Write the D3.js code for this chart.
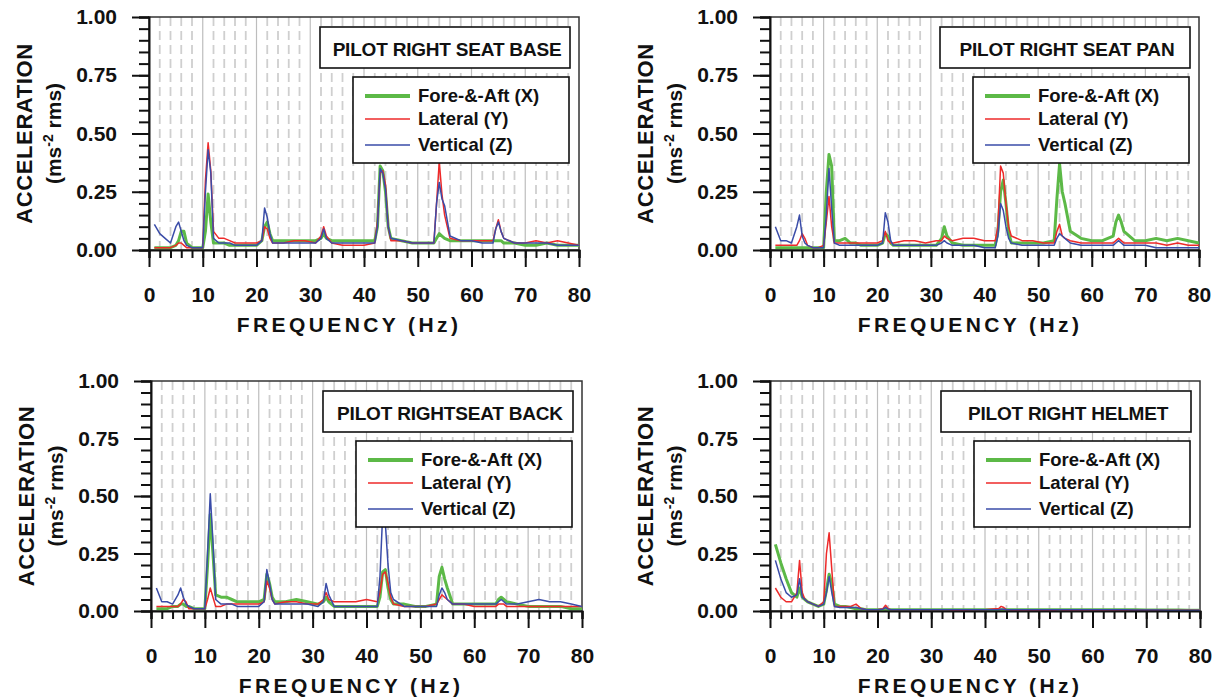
<!DOCTYPE html>
<html>
<head>
<meta charset="utf-8">
<script src="https://cdn.jsdelivr.net/npm/d3@7"></script>
<style>
  body { margin: 0; background: #fff; }
  text { font-family: "Liberation Sans", Arial, sans-serif; }
</style>
</head>
<body>
<div class="chart"></div>
<script>
// frequency points (Hz) shared by every series
const freq = [1, 2, 3, 4, 5, 5.5, 6, 6.5, 7, 8,
    9, 10, 10.5, 11, 11.5, 12, 13, 14, 15, 16,
    17, 18, 20, 21, 21.5, 22, 22.5, 23, 25, 27,
    29, 31, 32, 32.5, 33, 34, 36, 38, 40, 42,
    42.5, 43, 43.5, 44, 44.5, 45, 47, 49, 51, 53,
    53.5, 54, 54.5, 55, 56, 58, 60, 62, 64, 64.5,
    65, 65.5, 66, 68, 70, 72, 74, 76, 78, 80];

// PILOT RIGHT SEAT BASE
const baseX = [0.01, 0.01, 0.01, 0.01, 0.02, 0.04, 0.08, 0.08, 0.03, 0.01,
    0.01, 0.01, 0.08, 0.24, 0.12, 0.03, 0.03, 0.03, 0.02, 0.02,
    0.02, 0.02, 0.02, 0.04, 0.10, 0.12, 0.07, 0.04, 0.04, 0.04,
    0.04, 0.04, 0.05, 0.07, 0.05, 0.04, 0.04, 0.04, 0.04, 0.04,
    0.10, 0.36, 0.34, 0.25, 0.10, 0.05, 0.04, 0.03, 0.03, 0.03,
    0.05, 0.07, 0.06, 0.05, 0.04, 0.04, 0.04, 0.04, 0.04, 0.04,
    0.04, 0.04, 0.03, 0.03, 0.02, 0.02, 0.03, 0.02, 0.02, 0.02];
const baseY = [0.01, 0.01, 0.01, 0.01, 0.02, 0.03, 0.03, 0.02, 0.01, 0.01,
    0.01, 0.01, 0.30, 0.46, 0.34, 0.08, 0.05, 0.05, 0.04, 0.03,
    0.03, 0.03, 0.03, 0.04, 0.10, 0.09, 0.05, 0.03, 0.03, 0.04,
    0.04, 0.03, 0.06, 0.10, 0.06, 0.03, 0.02, 0.02, 0.02, 0.03,
    0.12, 0.33, 0.34, 0.28, 0.10, 0.04, 0.04, 0.03, 0.03, 0.03,
    0.20, 0.38, 0.24, 0.15, 0.05, 0.04, 0.04, 0.04, 0.04, 0.09,
    0.13, 0.08, 0.05, 0.03, 0.03, 0.04, 0.03, 0.04, 0.03, 0.02];
const baseZ = [0.11, 0.07, 0.05, 0.03, 0.10, 0.12, 0.08, 0.04, 0.02, 0.01,
    0.01, 0.01, 0.25, 0.43, 0.33, 0.05, 0.03, 0.03, 0.03, 0.02,
    0.02, 0.02, 0.02, 0.04, 0.18, 0.14, 0.07, 0.03, 0.03, 0.03,
    0.03, 0.03, 0.05, 0.09, 0.05, 0.03, 0.03, 0.03, 0.03, 0.03,
    0.10, 0.35, 0.33, 0.26, 0.10, 0.05, 0.04, 0.03, 0.03, 0.03,
    0.20, 0.29, 0.22, 0.19, 0.06, 0.04, 0.04, 0.03, 0.03, 0.09,
    0.12, 0.08, 0.05, 0.03, 0.03, 0.03, 0.03, 0.02, 0.02, 0.02];

// PILOT RIGHT SEAT PAN
const panX = [0.01, 0.01, 0.01, 0.01, 0.01, 0.01, 0.01, 0.01, 0.01, 0.01,
    0.01, 0.01, 0.25, 0.41, 0.36, 0.04, 0.04, 0.05, 0.03, 0.03,
    0.02, 0.02, 0.02, 0.03, 0.07, 0.06, 0.03, 0.02, 0.02, 0.02,
    0.02, 0.02, 0.05, 0.10, 0.06, 0.03, 0.02, 0.02, 0.02, 0.02,
    0.08, 0.25, 0.30, 0.20, 0.08, 0.03, 0.03, 0.03, 0.03, 0.04,
    0.22, 0.37, 0.25, 0.20, 0.08, 0.05, 0.04, 0.04, 0.06, 0.12,
    0.15, 0.12, 0.08, 0.04, 0.04, 0.05, 0.04, 0.05, 0.04, 0.03];
const panY = [0.02, 0.02, 0.02, 0.02, 0.02, 0.04, 0.07, 0.05, 0.02, 0.01,
    0.01, 0.02, 0.12, 0.23, 0.10, 0.03, 0.03, 0.03, 0.03, 0.03,
    0.03, 0.03, 0.03, 0.04, 0.08, 0.04, 0.03, 0.03, 0.04, 0.04,
    0.03, 0.04, 0.04, 0.06, 0.05, 0.04, 0.05, 0.05, 0.04, 0.04,
    0.10, 0.36, 0.33, 0.20, 0.10, 0.06, 0.04, 0.04, 0.03, 0.03,
    0.08, 0.11, 0.06, 0.05, 0.04, 0.03, 0.03, 0.03, 0.03, 0.04,
    0.05, 0.04, 0.03, 0.03, 0.03, 0.03, 0.02, 0.03, 0.02, 0.02];
const panZ = [0.10, 0.04, 0.04, 0.03, 0.10, 0.15, 0.06, 0.03, 0.02, 0.01,
    0.01, 0.01, 0.15, 0.35, 0.18, 0.03, 0.02, 0.02, 0.02, 0.02,
    0.02, 0.02, 0.02, 0.03, 0.16, 0.12, 0.04, 0.02, 0.02, 0.02,
    0.02, 0.02, 0.03, 0.04, 0.03, 0.02, 0.02, 0.02, 0.01, 0.01,
    0.06, 0.20, 0.17, 0.10, 0.05, 0.03, 0.02, 0.02, 0.02, 0.02,
    0.05, 0.07, 0.06, 0.05, 0.03, 0.02, 0.02, 0.02, 0.02, 0.03,
    0.04, 0.03, 0.02, 0.02, 0.02, 0.01, 0.01, 0.01, 0.01, 0.01];

// PILOT RIGHT SEAT BACK
const backX = [0.01, 0.01, 0.01, 0.02, 0.02, 0.03, 0.03, 0.02, 0.02, 0.01,
    0.01, 0.01, 0.20, 0.42, 0.25, 0.07, 0.06, 0.06, 0.05, 0.04,
    0.04, 0.04, 0.04, 0.05, 0.16, 0.12, 0.06, 0.04, 0.04, 0.05,
    0.04, 0.03, 0.04, 0.06, 0.04, 0.02, 0.02, 0.02, 0.02, 0.02,
    0.06, 0.17, 0.18, 0.10, 0.05, 0.03, 0.03, 0.02, 0.02, 0.03,
    0.15, 0.19, 0.14, 0.10, 0.03, 0.03, 0.03, 0.03, 0.03, 0.05,
    0.06, 0.05, 0.04, 0.03, 0.02, 0.02, 0.02, 0.02, 0.01, 0.01];
const backY = [0.02, 0.02, 0.02, 0.02, 0.02, 0.03, 0.05, 0.04, 0.01, 0.01,
    0.01, 0.01, 0.05, 0.10, 0.06, 0.02, 0.02, 0.03, 0.03, 0.03,
    0.03, 0.03, 0.03, 0.04, 0.13, 0.10, 0.05, 0.03, 0.04, 0.04,
    0.03, 0.03, 0.05, 0.08, 0.05, 0.04, 0.04, 0.04, 0.05, 0.04,
    0.08, 0.16, 0.17, 0.12, 0.06, 0.03, 0.02, 0.02, 0.02, 0.03,
    0.05, 0.07, 0.06, 0.05, 0.03, 0.03, 0.02, 0.02, 0.02, 0.03,
    0.03, 0.03, 0.02, 0.02, 0.02, 0.02, 0.02, 0.02, 0.02, 0.02];
const backZ = [0.10, 0.04, 0.04, 0.03, 0.07, 0.10, 0.06, 0.03, 0.02, 0.01,
    0.01, 0.01, 0.25, 0.51, 0.30, 0.05, 0.03, 0.03, 0.03, 0.02,
    0.02, 0.02, 0.02, 0.04, 0.18, 0.12, 0.05, 0.03, 0.03, 0.03,
    0.03, 0.02, 0.04, 0.12, 0.07, 0.02, 0.02, 0.02, 0.02, 0.02,
    0.15, 0.42, 0.38, 0.20, 0.08, 0.05, 0.02, 0.02, 0.02, 0.02,
    0.07, 0.10, 0.08, 0.05, 0.03, 0.03, 0.03, 0.03, 0.03, 0.04,
    0.05, 0.04, 0.03, 0.03, 0.04, 0.05, 0.04, 0.04, 0.03, 0.02];

// PILOT RIGHT HELMET
const helmX = [0.29, 0.21, 0.14, 0.08, 0.06, 0.10, 0.06, 0.05, 0.04, 0.03,
    0.02, 0.03, 0.09, 0.16, 0.12, 0.03, 0.02, 0.02, 0.015, 0.01,
    0.01, 0.005, 0.005, 0.005, 0.01, 0.005, 0.005, 0.005, 0.005, 0.005,
    0.005, 0.005, 0.005, 0.005, 0.005, 0.005, 0.005, 0.005, 0.005, 0.005,
    0.005, 0.005, 0.005, 0.005, 0.005, 0.005, 0.005, 0.005, 0.005, 0.005,
    0.005, 0.005, 0.005, 0.005, 0.005, 0.005, 0.005, 0.005, 0.005, 0.005,
    0.005, 0.005, 0.005, 0.005, 0.004, 0.004, 0.004, 0.004, 0.003, 0.003];
const helmY = [0.10, 0.06, 0.04, 0.04, 0.08, 0.22, 0.08, 0.05, 0.04, 0.03,
    0.02, 0.04, 0.25, 0.34, 0.18, 0.02, 0.02, 0.02, 0.02, 0.03,
    0.01, 0.005, 0.005, 0.01, 0.025, 0.01, 0.005, 0.005, 0.005, 0.005,
    0.005, 0.005, 0.005, 0.005, 0.005, 0.003, 0.003, 0.005, 0.005, 0.01,
    0.01, 0.02, 0.015, 0.005, 0.005, 0.003, 0.003, 0.003, 0.003, 0.003,
    0.005, 0.005, 0.003, 0.003, 0.003, 0.003, 0.003, 0.003, 0.003, 0.003,
    0.003, 0.003, 0.003, 0.003, 0.003, 0.003, 0.003, 0.003, 0.003, 0.003];
const helmZ = [0.22, 0.14, 0.08, 0.06, 0.07, 0.14, 0.06, 0.05, 0.04, 0.03,
    0.02, 0.03, 0.08, 0.15, 0.08, 0.02, 0.015, 0.015, 0.015, 0.015,
    0.01, 0.005, 0.005, 0.008, 0.015, 0.008, 0.005, 0.005, 0.005, 0.005,
    0.005, 0.005, 0.005, 0.005, 0.005, 0.005, 0.005, 0.005, 0.005, 0.005,
    0.005, 0.008, 0.008, 0.005, 0.005, 0.005, 0.005, 0.005, 0.005, 0.005,
    0.005, 0.005, 0.005, 0.005, 0.005, 0.005, 0.005, 0.005, 0.005, 0.005,
    0.005, 0.005, 0.005, 0.004, 0.004, 0.004, 0.003, 0.003, 0.003, 0.003];

const titles = ['PILOT RIGHT SEAT BASE', 'PILOT RIGHT SEAT PAN', 'PILOT RIGHTSEAT BACK', 'PILOT RIGHT HELMET'];
const seriesNames = ['Fore-&-Aft (X)', 'Lateral (Y)', 'Vertical (Z)'];
const xTicks = [0, 10, 20, 30, 40, 50, 60, 70, 80];
const yTicks = [0, 0.25, 0.5, 0.75, 1];

const colors = ['#5cb947', '#ee2a2a', '#3a4ca8'];
const widths = [3, 1.5, 1.5];

const panels = [
    {left: 149, top: 17, w: 430, h: 233, title: titles[0], series: [baseX, baseY, baseZ]},
    {left: 770, top: 17, w: 429, h: 233, title: titles[1], series: [panX, panY, panZ]},
    {left: 151, top: 381, w: 431, h: 230, title: titles[2], series: [backX, backY, backZ]},
    {left: 770, top: 381, w: 430, h: 230, title: titles[3], series: [helmX, helmY, helmZ]}
];

let svg = d3.select('.chart')
    .append('svg')
    .attr('width', 1222)
    .attr('height', 700);
svg.append('rect').attr('width', 1222).attr('height', 700).attr('fill', '#fff');

panels.forEach((p, pi) => {
    let x = d3.scaleLinear().domain([0, 80]).range([0, p.w]);
    let y = d3.scaleLinear().domain([0, 1]).range([p.h, 0]);
    let g = svg.append('g')
        .attr('transform', 'translate(' + p.left + ',' + p.top + ')');

    // vertical grid: dashed every 2 Hz, solid every 10 Hz
    let grid = d3.range(2, 80, 2);
    g.selectAll('.grid')
        .data(grid)
        .enter().append('line')
        .attr('x1', d => x(d)).attr('x2', d => x(d))
        .attr('y1', 0).attr('y2', p.h)
        .attr('stroke', d => d % 10 === 0 ? '#bdbdbd' : '#cfcfcf')
        .attr('stroke-width', d => d % 10 === 0 ? 1.2 : 1.8)
        .attr('stroke-dasharray', d => d % 10 === 0 ? null : '9,5');

    // frame
    g.append('rect')
        .attr('width', p.w).attr('height', p.h)
        .attr('fill', 'none')
        .attr('stroke', '#333')
        .attr('stroke-width', 1.5);

    // data
    let clipId = 'clip' + pi;
    g.append('clipPath').attr('id', clipId)
        .append('rect').attr('width', p.w).attr('height', p.h + 2).attr('y', -1);
    let line = d3.line()
        .x((d, i) => x(freq[i]))
        .y(d => y(d));
    p.series.forEach((s, si) => {
        g.append('path')
            .datum(s)
            .attr('clip-path', 'url(#' + clipId + ')')
            .attr('fill', 'none')
            .attr('stroke', colors[si])
            .attr('stroke-width', widths[si])
            .attr('stroke-linejoin', 'round')
            .attr('d', line);
    });

    // axes: minor ticks then major ticks with labels
    g.append('g')
        .attr('transform', 'translate(0,' + p.h + ')')
        .call(d3.axisBottom(x).tickValues(d3.range(0, 81, 2)).tickSize(8).tickFormat(''))
        .call(a => a.selectAll('line').attr('stroke', '#111').attr('stroke-width', 2))
        .call(a => a.select('.domain').attr('stroke', '#111').attr('stroke-width', 2));
    g.append('g')
        .attr('transform', 'translate(0,' + p.h + ')')
        .call(d3.axisBottom(x).tickValues(xTicks).tickSize(17).tickPadding(20).tickFormat(d3.format('d')))
        .call(a => a.select('.domain').remove())
        .call(a => a.selectAll('line').attr('stroke', '#111').attr('stroke-width', 2))
        .call(a => a.selectAll('text')
            .attr('fill', '#111')
            .style('font-size', '21px')
            .style('font-weight', 'bold'));

    g.append('g')
        .call(d3.axisLeft(y).tickValues(d3.range(0, 1.001, 0.05)).tickSize(10).tickFormat(''))
        .call(a => a.selectAll('line').attr('stroke', '#111').attr('stroke-width', 2))
        .call(a => a.select('.domain').attr('stroke', '#111').attr('stroke-width', 2));
    g.append('g')
        .call(d3.axisLeft(y).tickValues(yTicks).tickSize(17).tickPadding(15).tickFormat(d3.format('.2f')))
        .call(a => a.select('.domain').remove())
        .call(a => a.selectAll('line').attr('stroke', '#111').attr('stroke-width', 2))
        .call(a => a.selectAll('text')
            .attr('fill', '#111')
            .style('font-size', '21px')
            .style('font-weight', 'bold'));

    // axis titles
    g.append('text')
        .attr('x', 200)
        .attr('y', p.h + 82)
        .attr('text-anchor', 'middle')
        .attr('fill', '#111')
        .style('font-size', '21px')
        .style('font-weight', 'bold')
        .style('letter-spacing', '3.4px')
        .text('FREQUENCY (Hz)');

    let yt = g.append('g')
        .attr('transform', 'translate(0,' + (p.h / 2) + ') rotate(-90)');
    yt.append('text')
        .attr('x', 0).attr('y', -117)
        .attr('text-anchor', 'middle')
        .attr('fill', '#111')
        .style('font-size', '22px')
        .style('font-weight', 'bold')
        .style('letter-spacing', '0.6px')
        .text('ACCELERATION');
    let t2 = yt.append('text')
        .attr('x', 0).attr('y', -88)
        .attr('text-anchor', 'middle')
        .attr('fill', '#111')
        .style('font-size', '21px')
        .style('font-weight', 'bold');
    t2.append('tspan').text('(ms');
    t2.append('tspan').attr('dy', -8).style('font-size', '14px').text('-2');
    t2.append('tspan').attr('dy', 8).text(' rms)');

    // title box
    let bw = 250, bh = 41;
    let tb = g.append('g')
        .attr('transform', 'translate(' + (p.w - 9 - bw) + ',10)');
    tb.append('rect')
        .attr('width', bw).attr('height', bh)
        .attr('fill', '#fff')
        .attr('stroke', '#111')
        .attr('stroke-width', 1.6);
    tb.append('text')
        .attr('x', bw / 2 + 2).attr('y', 29)
        .attr('text-anchor', 'middle')
        .attr('fill', '#111')
        .style('font-size', '19px')
        .style('font-weight', 'bold')
        .style('letter-spacing', '-0.2px')
        .text(p.title);

    // legend
    let lw = 216, lh = 86;
    let lg = g.append('g')
        .attr('transform', 'translate(' + (p.w - 10 - lw) + ',60)');
    lg.append('rect')
        .attr('width', lw).attr('height', lh)
        .attr('fill', '#fff')
        .attr('stroke', '#111')
        .attr('stroke-width', 1.6);
    let rows = [19, 42, 68];
    seriesNames.forEach((n, i) => {
        lg.append('line')
            .attr('x1', 12).attr('x2', 57)
            .attr('y1', rows[i]).attr('y2', rows[i])
            .attr('stroke', colors[i])
            .attr('stroke-width', i === 0 ? 4 : 1.6);
        lg.append('text')
            .attr('x', 65).attr('y', rows[i] + 6)
            .attr('fill', '#111')
            .style('font-size', '18.5px')
            .style('font-weight', 'bold')
            .text(n);
    });
});
</script>
</body>
</html>
